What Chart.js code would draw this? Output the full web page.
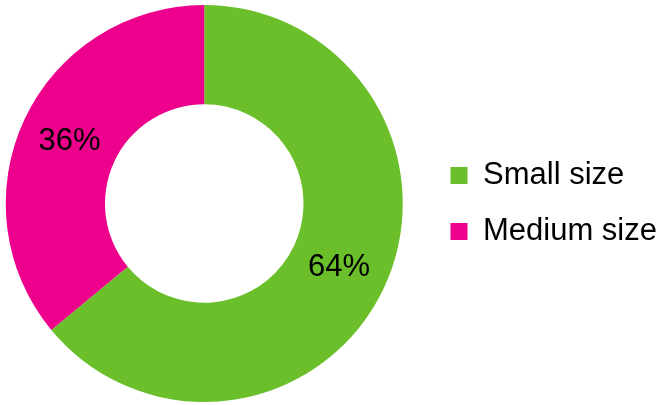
<!DOCTYPE html>
<html>
<head>
<meta charset="utf-8">
<script src="https://cdn.jsdelivr.net/npm/chart.js@4.4.1/dist/chart.umd.min.js"></script>
<style>
  html, body { margin: 0; padding: 0; background: #fff; overflow: hidden; }
  #wrap { width: 661px; height: 405px; overflow: hidden; position: relative; }
  #c { position: absolute; left: -17px; top: 0; }
</style>
</head>
<body>
<div id="wrap"><canvas id="c" width="684" height="405"></canvas></div>
<script>
// Share of companies by size
const categories = ['Small size', 'Medium size'];
const shares = [64, 36];
const sliceColors = ['#6BBF2B', '#EC008C'];

const FONT = '"Liberation Sans", Arial, sans-serif';

// Writes each slice's percentage in the middle of its ring segment
const sliceLabels = {
  id: 'sliceLabels',
  afterDatasetsDraw(chart) {
    const ctx = chart.ctx;
    const meta = chart.getDatasetMeta(0);
    ctx.save();
    ctx.font = '31px ' + FONT;
    ctx.fillStyle = '#000';
    ctx.textAlign = 'center';
    ctx.textBaseline = 'middle';
    meta.data.forEach((arc, i) => {
      const p = arc.tooltipPosition();
      ctx.fillText(shares[i] + '%', p.x, p.y + 1);
    });
    ctx.restore();
  }
};

new Chart(document.getElementById('c'), {
  type: 'doughnut',
  data: {
    labels: categories,
    datasets: [{
      data: shares,
      backgroundColor: sliceColors,
      borderWidth: 0
    }]
  },
  options: {
    responsive: false,
    animation: false,
    cutout: '50%',
    layout: { padding: { left: 0, right: 0, top: 5, bottom: 3 } },
    plugins: {
      tooltip: { enabled: false },
      legend: {
        position: 'right',
        align: 'center',
        labels: {
          boxWidth: 17,
          boxHeight: 17,
          padding: 25,
          color: '#000',
          font: { size: 31, family: FONT }
        }
      }
    }
  },
  plugins: [sliceLabels]
});
</script>
</body>
</html>
